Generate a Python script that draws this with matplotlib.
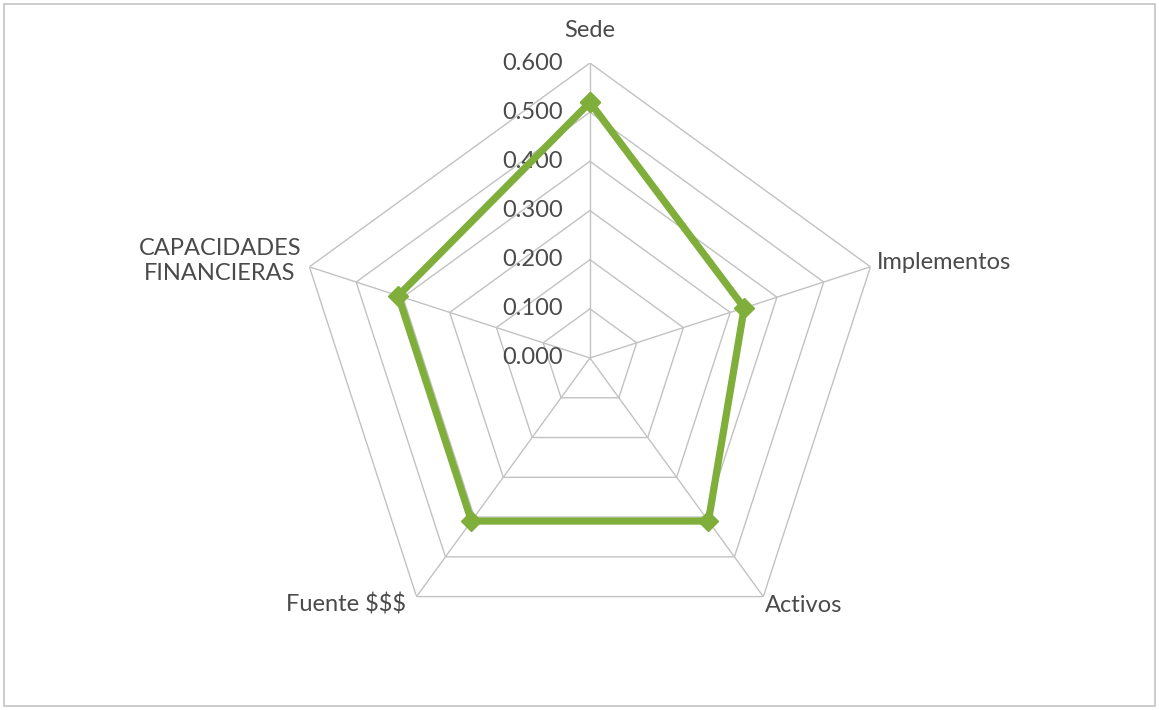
import matplotlib.pyplot as plt
import numpy as np
from matplotlib.patches import Rectangle

# Radar data
categories = ['Sede', 'Implementos', 'Activos', 'Fuente \\$\\$\\$', 'CAPACIDADES\nFINANCIERAS']
values = [0.52, 0.33, 0.41, 0.41, 0.41]
ticks = [0.0, 0.1, 0.2, 0.3, 0.4, 0.5, 0.6]
tick_labels = ['0.000', '0.100', '0.200', '0.300', '0.400', '0.500', '0.600']

# label offsets in pixels from the outer vertex
label_offsets = [(0, 33), (6, 4), (2, -9), (-11, -8), (-8, 6)]
label_ha = ['center', 'left', 'left', 'right', 'right']

plt.rcParams['font.family'] = ['Lato', 'DejaVu Sans']
text_color = '#4a4a4a'
grid_color = '#c2c2c2'
green = '#7fae3a'

n = len(categories)
angles = np.linspace(0, 2 * np.pi, n, endpoint=False)
closed = np.concatenate([angles, angles[:1]])

fig = plt.figure(figsize=(11.59, 7.10), dpi=100)
fig.patches.append(Rectangle((4 / 1159, 4 / 710), 1 - 8 / 1159, 1 - 8 / 710,
                             transform=fig.transFigure, fill=False,
                             edgecolor='#c4c4c4', linewidth=1.2))

ax = fig.add_axes([0.2545, 0.0803, 0.509, 0.831], projection='polar')
ax.set_theta_offset(np.pi / 2)
ax.set_theta_direction(-1)
ax.set_ylim(0, 0.6)
ax.grid(False)
ax.spines['polar'].set_visible(False)
ax.set_xticks([])
ax.set_yticks([])
ax.patch.set_alpha(0)

# pentagon grid rings and spokes
for level in ticks[1:]:
    ax.plot(closed, [level] * (n + 1), color=grid_color, linewidth=1.0, zorder=1)
for a in angles:
    ax.plot([a, a], [0, ticks[-1]], color=grid_color, linewidth=1.0, zorder=1)

# value labels along the Sede spoke
for level, lab in zip(ticks, tick_labels):
    ax.annotate(lab, xy=(0, level), xytext=(-27, 0), textcoords='offset pixels',
                ha='right', va='center', fontsize=17, color=text_color)

# category labels
for a, lab, off, ha in zip(angles, categories, label_offsets, label_ha):
    ax.annotate(lab, xy=(a, ticks[-1]), xytext=off, textcoords='offset pixels',
                ha=ha, va='center', fontsize=17, color=text_color,
                multialignment='center', linespacing=1.25)

# series
ax.plot(closed, values + values[:1], color=green, linewidth=5.2, zorder=3,
        marker='D', markersize=10, markeredgecolor=green)

fig.savefig('out.png', dpi=100)
